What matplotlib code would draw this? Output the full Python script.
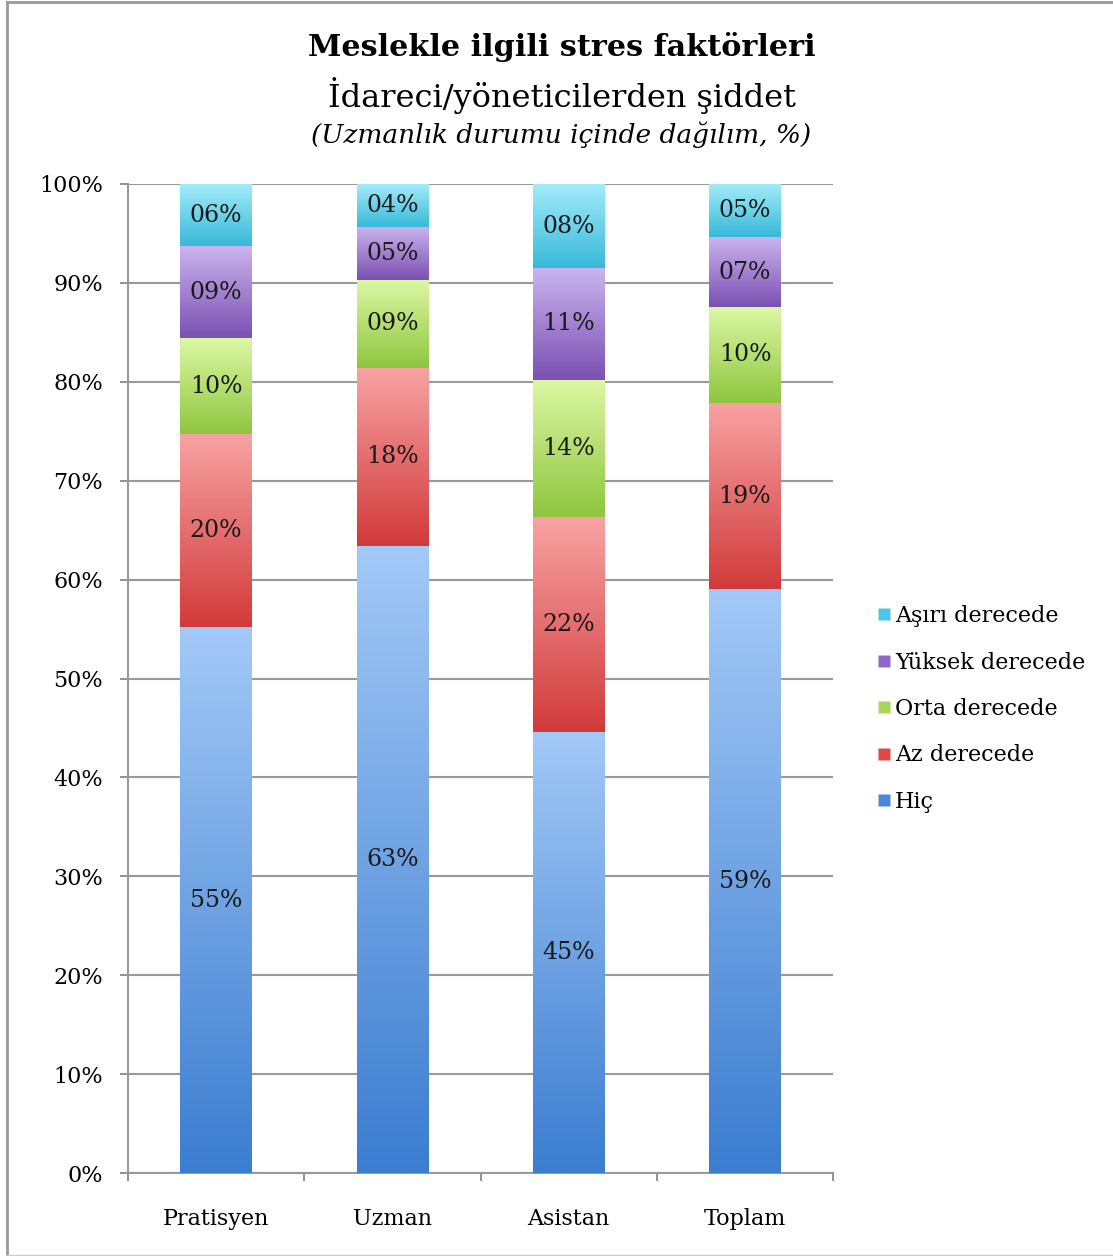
import numpy as np
import matplotlib
matplotlib.use("Agg")
import matplotlib.pyplot as plt
from matplotlib.colors import LinearSegmentedColormap
from matplotlib.lines import Line2D

categories = ["Pratisyen", "Uzman", "Asistan", "Toplam"]
series_names = ["Hiç", "Az derecede", "Orta derecede", "Yüksek derecede", "Aşırı derecede"]
hic = [55.2, 63.4, 44.6, 59.0]
az = [19.5, 18.0, 21.7, 18.9]
orta = [9.7, 8.9, 13.9, 9.7]
yuksek = [9.3, 5.4, 11.3, 7.0]
asiri = [6.3, 4.3, 8.5, 5.4]
series_values = [hic, az, orta, yuksek, asiri]
yticklabels = ["0%", "10%", "20%", "30%", "40%", "50%", "60%", "70%", "80%", "90%", "100%"]

# (top colour, bottom colour, legend colour)
grad_colors = [
    ("#a3c9f7", "#3b7dd0", "#4a88d8"),
    ("#f8a3a3", "#d23a3a", "#e04848"),
    ("#dcf8a4", "#8fc63f", "#a8d65a"),
    ("#cbb4ee", "#7a50b2", "#9068c8"),
    ("#a4ecf9", "#38b9da", "#4cc6e6"),
]

FONT = "DejaVu Serif"
plt.rcParams["font.family"] = [FONT]

fig = plt.figure(figsize=(11.13, 12.56), dpi=100)
ax = fig.add_axes([128 / 1113, 1 - 1173 / 1256, (833 - 128) / 1113, (1173 - 184) / 1256])

x = np.arange(len(categories))
bottom = np.zeros(len(categories))
width = 0.405
for vals, (ctop, cbot, _) in zip(series_values, grad_colors):
    vals = np.array(vals)
    bars = ax.bar(x, vals, width=width, bottom=bottom, facecolor="none", edgecolor="none", zorder=3)
    cmap = LinearSegmentedColormap.from_list("g", [cbot, ctop])
    grad = np.linspace(0, 1, 256).reshape(-1, 1)
    for p, v, b in zip(bars.patches, vals, bottom):
        bx, by = p.get_x(), p.get_y()
        ax.imshow(grad, extent=[bx, bx + p.get_width(), by, by + p.get_height()],
                  origin="lower", aspect="auto", cmap=cmap, zorder=3, interpolation="bilinear")
        ax.text(bx + p.get_width() / 2, by + p.get_height() / 2, "%02d%%" % round(v),
                ha="center", va="center", fontsize=17, color="#1a1a1a", zorder=5)
    bottom = bottom + vals

ax.set_xlim(-0.5, 3.5)
ax.set_ylim(0, 100)
ax.set_yticks(np.arange(0, 101, 10))
ax.set_yticklabels(yticklabels, fontsize=16)
ax.set_xticks(x)
ax.set_xticklabels(categories, fontsize=16)
ax.set_xticks(np.arange(-0.5, 3.6, 1), minor=True)
ax.tick_params(axis="x", which="major", length=0, pad=25)
ax.tick_params(axis="x", which="minor", length=6, width=1.3, color="#888888", direction="out")
ax.tick_params(axis="y", length=6, width=1.3, color="#888888", pad=12)
ax.yaxis.grid(True, color="#999999", linewidth=1.5, zorder=0)
ax.set_axisbelow(True)
for s in ["top", "right"]:
    ax.spines[s].set_visible(False)
for s in ["left", "bottom"]:
    ax.spines[s].set_color("#999999")
    ax.spines[s].set_linewidth(1.5)

handles = [Line2D([], [], marker="s", linestyle="none", markersize=8, markerfacecolor=c[2],
                  markeredgecolor="none") for c in grad_colors]
fig.legend(handles[::-1], series_names[::-1], loc="center left", bbox_to_anchor=(866 / 1113, 1 - 709 / 1256),
           frameon=False, fontsize=16, handletextpad=0.1, labelspacing=1.1, handlelength=0.8,
           borderaxespad=0)

fig.text(0.5045, 1 - 47 / 1256, "Meslekle ilgili stres faktörleri", ha="center", va="center",
         fontsize=21.8, fontweight="bold")
fig.text(0.5045, 1 - 95 / 1256, "İdareci/yöneticilerden şiddet", ha="center", va="center", fontsize=23)
fig.text(0.5045, 1 - 135 / 1256, "(Uzmanlık durumu içinde dağılım, %)", ha="center", va="center",
         fontsize=19, style="italic")

# outer frame
fig.add_artist(Line2D([7 / 1113, 7 / 1113], [0, 1 - 2 / 1256], transform=fig.transFigure, color="#999999", lw=2))
fig.add_artist(Line2D([7 / 1113, 1], [1 - 2 / 1256, 1 - 2 / 1256], transform=fig.transFigure, color="#999999", lw=2))
fig.add_artist(Line2D([7 / 1113, 1], [1 / 1256, 1 / 1256], transform=fig.transFigure, color="#cccccc", lw=1))

fig.savefig("out.png", dpi=100)
